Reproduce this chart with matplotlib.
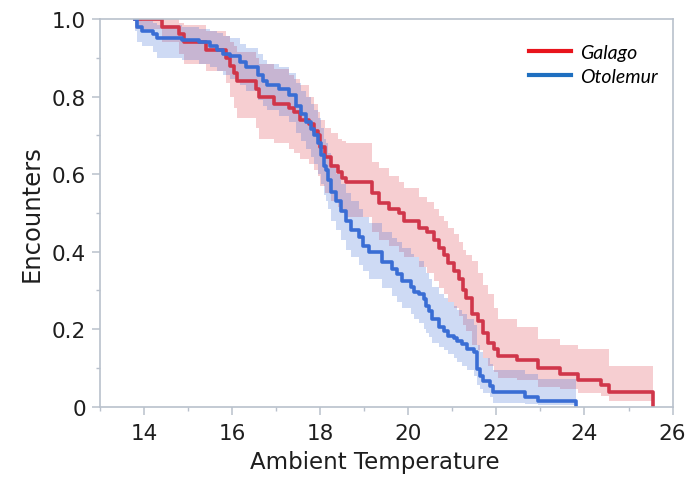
import matplotlib
matplotlib.use("Agg")
import matplotlib.pyplot as plt
from matplotlib.lines import Line2D
from matplotlib.ticker import MultipleLocator

# ---- data ----
galago_t = [13.80, 14.40, 14.80, 14.90, 15.40, 15.85, 15.95, 16.05, 16.10, 16.55,
            16.60, 16.95, 17.30, 17.40, 17.55, 17.75, 17.85, 17.95, 18.00, 18.10,
            18.25, 18.40, 18.50, 18.58, 19.18, 19.33, 19.55, 19.78, 19.90, 20.24,
            20.42, 20.58, 20.69, 20.80, 20.90, 21.03, 21.14, 21.25, 21.32, 21.45,
            21.59, 21.70, 21.82, 21.95, 22.04, 22.46, 22.95, 23.44, 23.86, 24.38,
            24.55, 25.55]
galago_s = [1.000, 0.980, 0.960, 0.940, 0.920, 0.900, 0.880, 0.860, 0.840, 0.820,
            0.800, 0.780, 0.770, 0.760, 0.740, 0.730, 0.710, 0.700, 0.670, 0.645,
            0.620, 0.605, 0.590, 0.580, 0.550, 0.525, 0.510, 0.500, 0.480, 0.460,
            0.450, 0.430, 0.410, 0.390, 0.370, 0.350, 0.330, 0.300, 0.280, 0.240,
            0.220, 0.190, 0.165, 0.150, 0.130, 0.120, 0.100, 0.085, 0.070, 0.055,
            0.037, 0.000]
galago_hi = [1.000, 1.000, 0.990, 0.985, 0.970, 0.955, 0.940, 0.930, 0.915, 0.900,
             0.885, 0.870, 0.855, 0.845, 0.830, 0.800, 0.780, 0.760, 0.740, 0.720,
             0.705, 0.690, 0.685, 0.680, 0.630, 0.615, 0.595, 0.580, 0.565, 0.540,
             0.527, 0.510, 0.493, 0.478, 0.460, 0.445, 0.425, 0.405, 0.390, 0.375,
             0.345, 0.315, 0.290, 0.255, 0.225, 0.205, 0.175, 0.160, 0.150, 0.150,
             0.105, 0.105]
galago_lo = [0.975, 0.940, 0.910, 0.885, 0.865, 0.835, 0.800, 0.770, 0.745, 0.720,
             0.690, 0.680, 0.665, 0.655, 0.640, 0.625, 0.610, 0.595, 0.570, 0.550,
             0.530, 0.515, 0.500, 0.490, 0.450, 0.430, 0.415, 0.400, 0.385, 0.360,
             0.345, 0.325, 0.305, 0.290, 0.270, 0.255, 0.235, 0.210, 0.195, 0.160,
             0.145, 0.125, 0.105, 0.090, 0.075, 0.068, 0.052, 0.045, 0.035, 0.028,
             0.015, 0.015]

otolemur_t = [13.80, 13.85, 13.95, 14.20, 14.30, 14.85, 15.25, 15.50, 15.65, 15.80,
              15.95, 16.17, 16.32, 16.58, 16.70, 16.80, 17.07, 17.30, 17.45, 17.56,
              17.68, 17.79, 17.86, 17.94, 18.02, 18.09, 18.13, 18.17, 18.24, 18.35,
              18.47, 18.58, 18.69, 18.88, 18.96, 19.11, 19.41, 19.63, 19.75, 19.86,
              20.05, 20.12, 20.24, 20.35, 20.40, 20.46, 20.54, 20.69, 20.80, 20.91,
              21.03, 21.10, 21.21, 21.33, 21.48, 21.55, 21.63, 21.70, 21.86, 21.93,
              22.65, 22.95, 23.80]
otolemur_s = [1.000, 0.980, 0.970, 0.960, 0.950, 0.945, 0.940, 0.930, 0.920, 0.910,
              0.905, 0.890, 0.875, 0.855, 0.840, 0.830, 0.820, 0.805, 0.775, 0.755,
              0.735, 0.715, 0.700, 0.680, 0.650, 0.620, 0.610, 0.585, 0.555, 0.530,
              0.505, 0.480, 0.455, 0.437, 0.415, 0.400, 0.372, 0.355, 0.342, 0.325,
              0.308, 0.295, 0.290, 0.278, 0.260, 0.248, 0.225, 0.205, 0.196, 0.183,
              0.178, 0.170, 0.162, 0.149, 0.140, 0.097, 0.080, 0.065, 0.054, 0.037,
              0.025, 0.015, 0.005]
otolemur_hi = [1.000, 1.000, 0.995, 0.990, 0.985, 0.980, 0.975, 0.970, 0.965, 0.955,
               0.950, 0.935, 0.925, 0.910, 0.895, 0.885, 0.875, 0.860, 0.835, 0.815,
               0.800, 0.780, 0.765, 0.745, 0.720, 0.690, 0.680, 0.655, 0.625, 0.600,
               0.575, 0.550, 0.530, 0.510, 0.490, 0.475, 0.450, 0.435, 0.425, 0.410,
               0.395, 0.385, 0.375, 0.360, 0.345, 0.330, 0.310, 0.290, 0.280, 0.270,
               0.260, 0.250, 0.240, 0.225, 0.210, 0.160, 0.140, 0.125, 0.110, 0.095,
               0.085, 0.072, 0.072]
otolemur_lo = [0.970, 0.940, 0.930, 0.915, 0.900, 0.895, 0.885, 0.875, 0.865, 0.855,
               0.845, 0.830, 0.815, 0.790, 0.775, 0.765, 0.750, 0.735, 0.705, 0.685,
               0.665, 0.645, 0.625, 0.600, 0.575, 0.545, 0.530, 0.510, 0.480, 0.455,
               0.430, 0.405, 0.385, 0.365, 0.350, 0.330, 0.305, 0.285, 0.270, 0.255,
               0.240, 0.225, 0.215, 0.200, 0.190, 0.180, 0.165, 0.155, 0.145, 0.135,
               0.125, 0.115, 0.105, 0.095, 0.080, 0.055, 0.045, 0.035, 0.025, 0.010,
               0.006, 0.004, 0.004]

series_names = ["Galago", "Otolemur"]
x_ticks = [14, 16, 18, 20, 22, 24, 26]
y_ticks = [0, 0.2, 0.4, 0.6, 0.8, 1.0]
y_tick_labels = ["0", "0.2", "0.4", "0.6", "0.8", "1.0"]

# ---- style ----
red_line = "#d0364a"
blue_line = "#3a6dd4"
red_fill = "#dc3c4b"
blue_fill = "#3c6ed7"
legend_red = "#e8141c"
legend_blue = "#1f6fc0"
frame_col = "#b9c1cc"
text_col = "#1e1e1e"

plt.rcParams["font.family"] = ["DejaVu Sans"]

fig = plt.figure(figsize=(6.87, 4.85), dpi=100)
ax = fig.add_axes([0.1456, 0.1594, 0.8334, 0.7994])

ax.fill_between(galago_t, galago_lo, galago_hi, step="post",
                color=red_fill, alpha=0.25, linewidth=0)
ax.fill_between(otolemur_t, otolemur_lo, otolemur_hi, step="post",
                color=blue_fill, alpha=0.25, linewidth=0)
ax.step(galago_t, galago_s, where="post", color=red_line, lw=2.6)
ax.step(otolemur_t, otolemur_s, where="post", color=blue_line, lw=2.6)

ax.set_xlim(13, 26)
ax.set_ylim(0, 1.0)
ax.set_xticks(x_ticks)
ax.set_yticks(y_ticks)
ax.set_yticklabels(y_tick_labels)
ax.xaxis.set_minor_locator(MultipleLocator(1))
ax.yaxis.set_minor_locator(MultipleLocator(0.1))

for sp in ax.spines.values():
    sp.set_color(frame_col)
    sp.set_linewidth(1.2)

ax.tick_params(axis="both", which="major", direction="out", length=6,
               width=1.1, color=frame_col, labelsize=15.5, labelcolor=text_col, pad=4)
ax.tick_params(axis="x", which="major", pad=6)
ax.tick_params(axis="both", which="minor", direction="out", length=3,
               width=1.0, color=frame_col)

ax.set_xlabel("Ambient Temperature", fontsize=16.5, color=text_col)
ax.set_ylabel("Encounters", fontsize=17.5, color=text_col)
ax.xaxis.set_label_coords(0.48, -0.112)
ax.yaxis.set_label_coords(-0.098, 0.5)

handles = [Line2D([0], [0], color=legend_red, lw=3),
           Line2D([0], [0], color=legend_blue, lw=3)]
leg = ax.legend(handles, series_names, loc="upper left",
                bbox_to_anchor=(0.718, 0.98), frameon=False,
                prop={"family": "Lato", "style": "italic", "size": 14},
                handlelength=2.2, handletextpad=0.45, labelspacing=0.33)

fig.savefig("out.png", dpi=100)
